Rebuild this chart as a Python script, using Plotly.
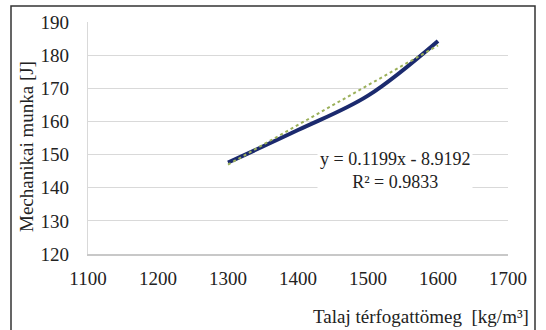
import plotly.graph_objects as go

# Data
density = [1300, 1400, 1500, 1600]          # Talaj térfogattömeg [kg/m3]
work = [147.6, 157.4, 167.8, 184.3]         # Mechanikai munka [J]

trend_x = [1300, 1600]
trend_y = [146.95, 182.92]                  # y = 0.1199x - 8.9192

x_ticks = [1100, 1200, 1300, 1400, 1500, 1600, 1700]
y_ticks = [120, 130, 140, 150, 160, 170, 180, 190]

equation_text = "y = 0.1199x - 8.9192<br>R² = 0.9833"
x_title = "Talaj térfogattömeg\u00a0\u00a0[kg/m³]"
y_title = "Mechanikai munka [J]"

W, H = 546, 330
L, R, T, B = 88, 38, 22, 76
pw, ph = W - L - R, H - T - B

def px_x(p):
    return (p - L) / pw

def px_y(p):
    return (H - B - p) / ph

serif = "Liberation Serif, Times New Roman, serif"
ink = "#222222"

fig = go.Figure()
fig.add_trace(go.Scatter(
    x=density, y=work, mode="lines",
    line=dict(color="#1B2A6E", width=4, shape="spline", smoothing=1.0),
    showlegend=False, hoverinfo="skip"))
fig.add_trace(go.Scatter(
    x=trend_x, y=trend_y, mode="lines",
    line=dict(color="#9BB05A", width=2, dash="dot"),
    showlegend=False, hoverinfo="skip"))

fig.update_layout(
    width=W, height=H,
    margin=dict(l=L, r=R, t=T, b=B, pad=0),
    paper_bgcolor="white", plot_bgcolor="white",
    font=dict(family=serif, size=18, color=ink),
    xaxis=dict(range=[1100, 1700], tickvals=x_ticks,
               ticktext=[str(v) for v in x_ticks],
               showgrid=False, zeroline=False, showline=True,
               linecolor="#C8C8C8", linewidth=1.5, ticks="",
               ticklabelstandoff=6,
               tickfont=dict(family=serif, size=19, color=ink)),
    yaxis=dict(range=[120, 190], tickvals=y_ticks,
               ticktext=[str(v) for v in y_ticks],
               showgrid=True, gridcolor="#D9D9D9", gridwidth=1.2,
               zeroline=False, showline=True, linecolor="#D9D9D9",
               linewidth=1.2, ticks="", ticklabelstandoff=14,
               tickfont=dict(family=serif, size=19, color=ink)),
    annotations=[
        dict(text=equation_text, x=px_x(395), y=px_y(170.5),
             xref="paper", yref="paper", showarrow=False,
             xanchor="center", yanchor="middle", align="center",
             bgcolor="white", borderpad=2,
             font=dict(family=serif, size=18, color=ink)),
        dict(text=x_title, x=px_x(531), y=px_y(316),
             xref="paper", yref="paper", showarrow=False,
             xanchor="right", yanchor="middle",
             font=dict(family=serif, size=19, color=ink)),
        dict(text=y_title, x=px_x(26), y=px_y(147),
             xref="paper", yref="paper", showarrow=False,
             xanchor="center", yanchor="middle", textangle=-90,
             font=dict(family=serif, size=19, color=ink)),
    ],
    shapes=[
        dict(type="rect", xref="paper", yref="paper",
             x0=px_x(11), x1=px_x(535), y0=px_y(340), y1=px_y(6),
             line=dict(color="#333333", width=1.5), layer="above"),
    ],
)

fig.write_html("out.html", config={"displayModeBar": False},
               post_script="document.body.style.margin='0';document.body.style.padding='0';")
